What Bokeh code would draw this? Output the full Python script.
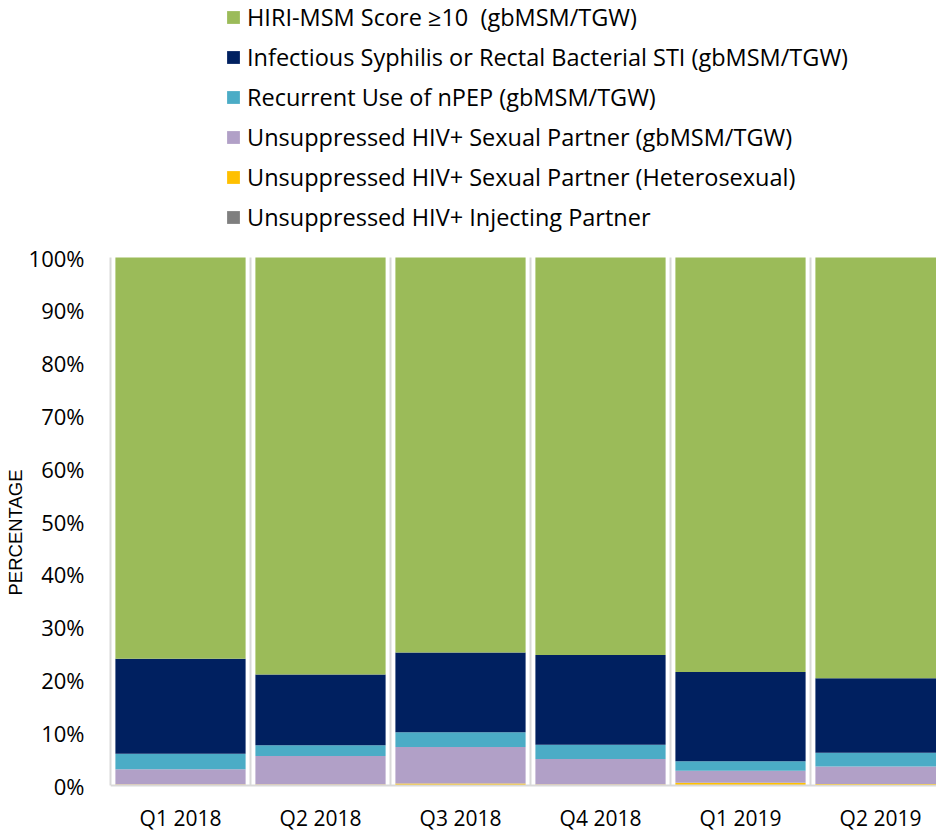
from bokeh.plotting import figure
from bokeh.models import (Legend, LegendItem, FixedTicker, Range1d, Span, Title,
                          ColumnDataSource)
from bokeh.core.properties import value
from bokeh.embed import file_html
from bokeh.resources import INLINE

quarters = ["Q1 2018", "Q2 2018", "Q3 2018", "Q4 2018", "Q1 2019", "Q2 2019"]
injecting = [0.0, 0.0, 0.0, 0.0, 0.0, 0.0]
hetero = [0.2, 0.2, 0.4, 0.2, 0.5, 0.3]
partner_msm = [2.9, 5.4, 6.9, 4.8, 2.3, 3.3]
npep = [2.9, 2.0, 2.8, 2.7, 1.8, 2.6]
sti = [18.0, 13.4, 15.1, 17.0, 16.9, 14.1]
hiri = [76.0, 79.0, 74.8, 75.3, 78.5, 79.7]
y_ticks = [0, 10, 20, 30, 40, 50, 60, 70, 80, 90, 100]

series_names = [
    "Unsuppressed HIV+ Injecting Partner",
    "Unsuppressed HIV+ Sexual Partner (Heterosexual)",
    "Unsuppressed HIV+ Sexual Partner (gbMSM/TGW)",
    "Recurrent Use of nPEP (gbMSM/TGW)",
    "Infectious Syphilis or Rectal Bacterial STI (gbMSM/TGW)",
    "HIRI-MSM Score \u226510  (gbMSM/TGW)",
]
colors = ["#7F7F7F", "#FFC000", "#B1A0C7", "#4BACC6", "#002060", "#9BBB59"]
keys = ["injecting", "hetero", "partner_msm", "npep", "sti", "hiri"]

FONT = "Open Sans"
W, H = 936, 834
LEFT = 110
ZERO_PX = 785      # canvas y of 0%
TOP_PX = 257       # canvas y of 100%
PX_PER_PCT = (ZERO_PX - TOP_PX) / 100.0
Y_START = -(H - ZERO_PX) / PX_PER_PCT
Y_END = 100 + TOP_PX / PX_PER_PCT
GRID = "#D9D9D9"

n = len(quarters)
source = ColumnDataSource(dict(x=list(range(n)), quarter=quarters,
                               zero=[0] * n, injecting=injecting,
                               hetero=hetero, partner_msm=partner_msm, npep=npep,
                               sti=sti, hiri=hiri))
sep = ColumnDataSource(dict(x=[i + 0.5 for i in range(n)], y0=[0] * n,
                            y1=[100] * n))

p = figure(width=W, height=H, output_backend="svg", toolbar_location=None,
           x_range=Range1d(-0.5, 5.4), y_range=Range1d(Y_START, Y_END),
           x_axis_location=None,
           min_border_left=LEFT, min_border_right=0, min_border_top=0,
           min_border_bottom=0)
p.outline_line_color = None
p.grid.visible = False

# category separators (vertical gridlines between quarters)
p.segment(x0="x", y0="y0", x1="x", y1="y1", source=sep, line_color=GRID,
          line_width=2)

renderers = p.vbar_stack(keys, x="x", width=0.93, color=colors, source=source,
                         line_color=None)

# category axis: baseline and labels
p.add_layout(Span(location=0, dimension="width", line_color=GRID, line_width=2))
p.text(x="x", y="zero", text="quarter", source=source, y_offset=32,
       text_align="center", text_baseline="middle", text_color="#000000",
       text_font=value(FONT), text_font_size="21px")

items = [LegendItem(label=series_names[i], renderers=[renderers[i]])
         for i in reversed(range(len(keys)))]
legend = Legend(items=items, location=(115, H - 233), orientation="vertical",
                glyph_width=16, glyph_height=16, label_height=20,
                label_standoff=6, spacing=8, padding=0, margin=0,
                border_line_color=None, background_fill_alpha=0,
                label_text_font=FONT, label_text_font_size="23.5px",
                label_text_color="#000000")
p.add_layout(legend)

p.yaxis.ticker = FixedTicker(ticks=y_ticks)
p.yaxis.bounds = (0, 100)
p.yaxis.major_label_overrides = {v: f"{v}%" for v in y_ticks}
p.yaxis.major_label_text_font = FONT
p.yaxis.major_label_text_font_size = "22px"
p.yaxis.major_label_text_color = "#000000"
p.yaxis.major_tick_line_color = None
p.yaxis.minor_tick_line_color = None
p.yaxis.major_tick_out = 0
p.yaxis.major_tick_in = 0
p.yaxis.axis_line_color = GRID
p.yaxis.axis_line_width = 2
p.yaxis.major_label_standoff = 26

ylabel = Title(text="PERCENTAGE", align="left", offset=239, standoff=0,
               text_font="Liberation Sans", text_font_size="18.5px",
               text_font_style="normal", text_color="#000000")
p.add_layout(ylabel, "left")

open("out.html", "w").write(file_html(p, INLINE))
